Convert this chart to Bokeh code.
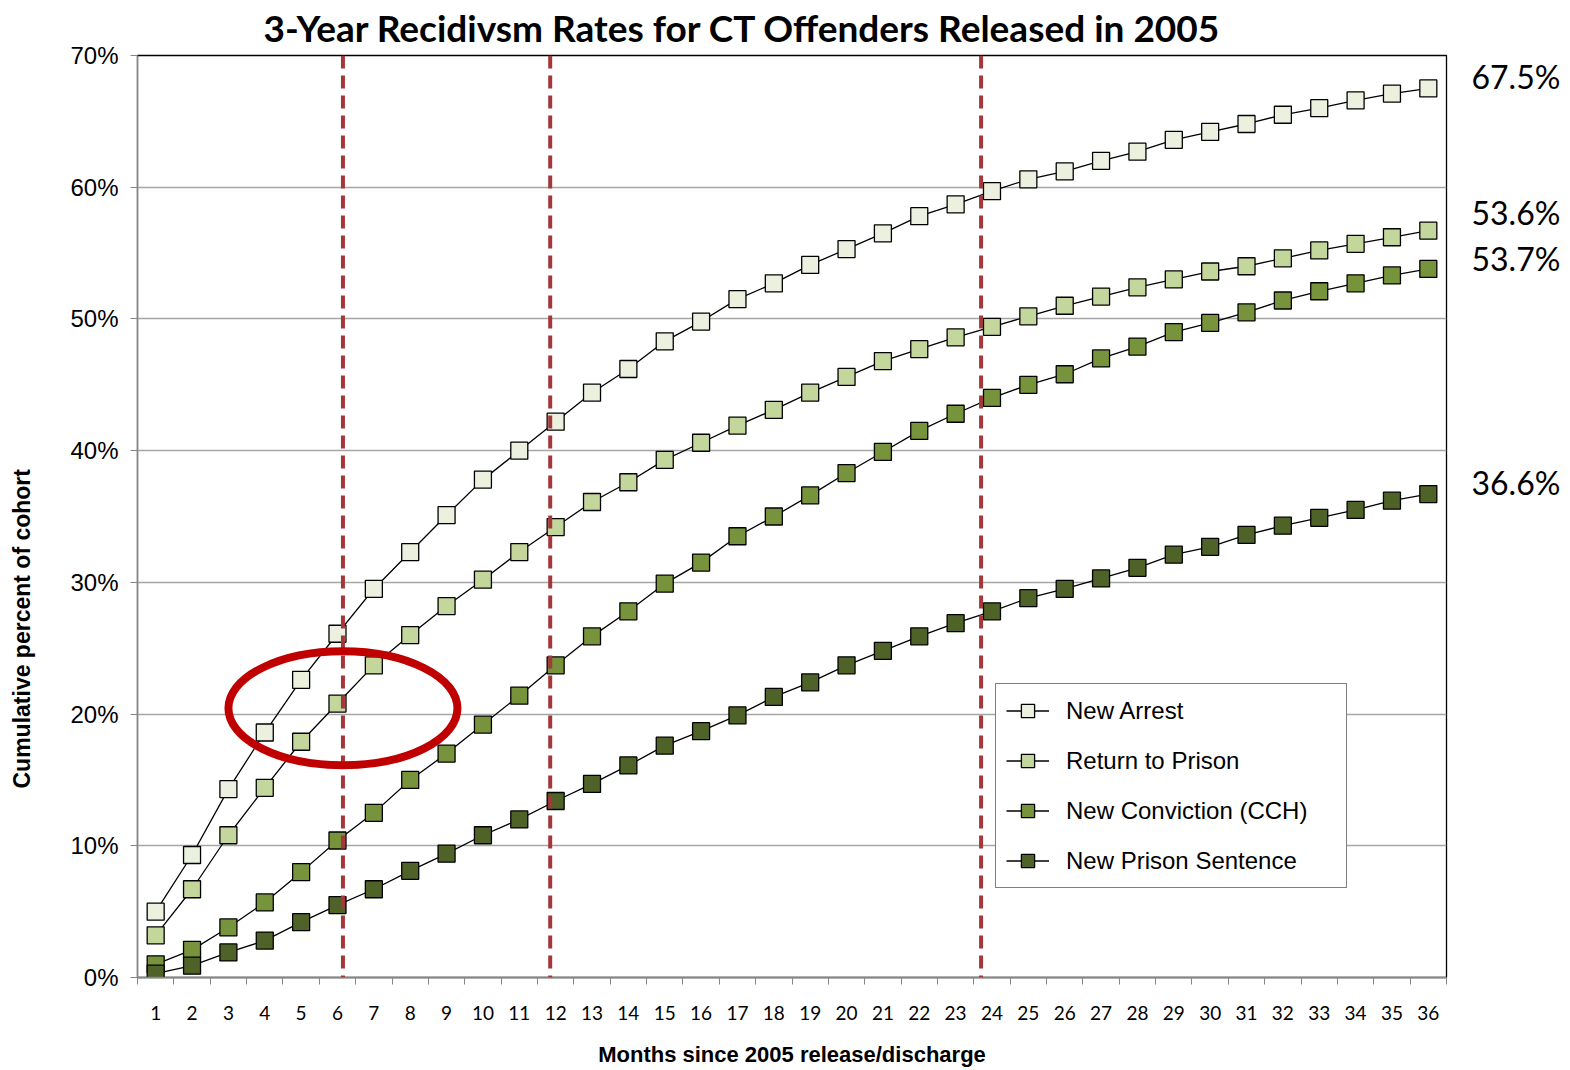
from bokeh.plotting import figure
from bokeh.models import (FixedTicker, PrintfTickFormatter, Span, Legend, LinearAxis,
                          LegendItem, Title, ColumnDataSource)
from bokeh.embed import file_html
from bokeh.resources import INLINE

# ---------------- data ----------------
months = list(range(1, 37))
series_names = ["New Arrest", "Return to Prison", "New Conviction (CCH)", "New Prison Sentence"]
new_arrest = [5.0, 9.3, 14.3, 18.6, 22.6, 26.1, 29.5, 32.3, 35.1, 37.8, 40.0, 42.2,
              44.4, 46.2, 48.3, 49.8, 51.5, 52.7, 54.1, 55.3, 56.5, 57.8, 58.7, 59.7,
              60.6, 61.2, 62.0, 62.7, 63.6, 64.2, 64.8, 65.5, 66.0, 66.6, 67.1, 67.5]
return_prison = [3.2, 6.7, 10.8, 14.4, 17.9, 20.8, 23.7, 26.0, 28.2, 30.2, 32.3, 34.2,
                 36.1, 37.6, 39.3, 40.6, 41.9, 43.1, 44.4, 45.6, 46.8, 47.7, 48.6, 49.4,
                 50.2, 51.0, 51.7, 52.4, 53.0, 53.6, 54.0, 54.6, 55.2, 55.7, 56.2, 56.7]
new_conviction = [1.0, 2.1, 3.8, 5.7, 8.0, 10.4, 12.5, 15.0, 17.0, 19.2, 21.4, 23.7,
                  25.9, 27.8, 29.9, 31.5, 33.5, 35.0, 36.6, 38.3, 39.9, 41.5, 42.8, 44.0,
                  45.0, 45.8, 47.0, 47.9, 49.0, 49.7, 50.5, 51.4, 52.1, 52.7, 53.3, 53.8]
new_sentence = [0.3, 0.9, 1.9, 2.8, 4.2, 5.5, 6.7, 8.1, 9.4, 10.8, 12.0, 13.4,
                 14.7, 16.1, 17.6, 18.7, 19.9, 21.3, 22.4, 23.7, 24.8, 25.9, 26.9, 27.8,
                 28.8, 29.5, 30.3, 31.1, 32.1, 32.7, 33.6, 34.3, 34.9, 35.5, 36.2, 36.7]
y_ticks = [0, 10, 20, 30, 40, 50, 60, 70]
end_labels = ["67.5%", "53.6%", "53.7%", "36.6%"]
end_label_y = [68.4, 58.1, 54.6, 37.6]
marker_months = [6.15, 11.85, 23.7]
highlight_center = (6.15, 20.44)

colors = ["#EBF1DE", "#C3D69B", "#77933C", "#4F6228"]
series = [new_arrest, return_prison, new_conviction, new_sentence]

p = figure(width=1570, height=1070, x_range=(0.5, 36.5), y_range=(0, 70),
           output_backend="svg", toolbar_location=None,
           min_border_left=137, min_border_right=124, min_border_top=55, min_border_bottom=93)
p.background_fill_color = "white"
p.border_fill_color = "white"
p.outline_line_color = "black"
p.outline_line_width = 1.3

# grid
p.xgrid.grid_line_color = None
p.ygrid.grid_line_color = "#A6A6A6"
p.ygrid.grid_line_width = 1.3

# y axis
p.yaxis.ticker = FixedTicker(ticks=y_ticks)
p.yaxis.formatter = PrintfTickFormatter(format="%d%%")
p.yaxis.axis_line_color = "#868686"
p.yaxis.axis_line_width = 1.3
p.yaxis.major_tick_line_color = "#868686"
p.yaxis.major_tick_out = 7
p.yaxis.major_tick_in = 0
p.yaxis.minor_tick_line_color = None
p.yaxis.major_label_standoff = 12
p.yaxis.major_label_text_font = "Liberation Sans"
p.yaxis.major_label_text_font_size = "24px"
p.yaxis.major_label_text_color = "black"
# invisible spacer label to reserve room between tick labels and the side title
p.yaxis.axis_label = " "
p.yaxis.axis_label_text_font_size = "1px"
p.yaxis.axis_label_standoff = 22

# x axis
p.xaxis.ticker = FixedTicker(ticks=months, minor_ticks=[m - 0.5 for m in months] + [months[-1] + 0.5])
p.xaxis.axis_line_color = "#868686"
p.xaxis.axis_line_width = 1.3
p.xaxis.major_tick_out = 0
p.xaxis.major_tick_in = 0
p.xaxis.major_tick_line_color = None
p.xaxis.minor_tick_line_color = "#868686"
p.xaxis.minor_tick_out = 7
p.xaxis.minor_tick_in = 0
p.xaxis.major_label_standoff = 21
p.xaxis.major_label_text_font = "Lato"
p.xaxis.major_label_text_font_size = "19px"
p.xaxis.major_label_text_color = "black"
p.xaxis.axis_label = "Months since 2005 release/discharge"
p.xaxis.axis_label_text_font = "Liberation Sans"
p.xaxis.axis_label_text_font_size = "22px"
p.xaxis.axis_label_text_font_style = "bold"
p.xaxis.axis_label_text_color = "black"
p.xaxis.axis_label_standoff = 19

# right-hand end-of-series annotations, as a bare axis
right_axis = LinearAxis(ticker=FixedTicker(ticks=end_label_y),
                        major_label_overrides={yv: t for yv, t in zip(end_label_y, end_labels)},
                        axis_line_color=None, major_tick_line_color=None,
                        minor_tick_line_color=None, major_label_standoff=19,
                        major_label_text_font="Lato", major_label_text_font_size="32px",
                        major_label_text_color="black")
p.add_layout(right_axis, "right")

# title
p.title.text = "3-Year Recidivsm Rates for CT Offenders Released in 2005"
p.title.text_font = "Lato"
p.title.text_font_size = "37px"
p.title.text_font_style = "bold"
p.title.text_color = "black"
p.title.align = "left"
p.title.offset = 126
p.title.vertical_align = "top"
p.title.standoff = 8

# y axis label as side title
p.add_layout(Title(text="Cumulative percent of cohort", align="left", offset=189,
                   text_font="Liberation Sans", text_font_size="23px", text_color="black",
                   text_font_style="bold", standoff=13), "left")

# series
items = []
for name, vals, col in zip(series_names, series, colors):
    src = ColumnDataSource(dict(x=months, y=vals))
    lr = p.line("x", "y", source=src, line_color="black", line_width=1.3)
    sr = p.scatter("x", "y", source=src, marker="square", size=17,
                   fill_color=col, line_color="black", line_width=1.3)
    items.append(LegendItem(label=name, renderers=[lr, sr]))

# milestone dashed lines
for m in marker_months:
    p.add_layout(Span(location=m, dimension="height", line_color="#A4373A",
                      line_width=4, line_dash="13 7"))

# highlight ellipse
er = p.ellipse(x=[highlight_center[0]], y=[highlight_center[1]], width=229, height=114,
               width_units="screen", height_units="screen",
               fill_alpha=0, line_color="#C00000", line_width=8)
er.level = "overlay"

legend = Legend(items=items, location=(858, 89))
legend.border_line_color = "black"
legend.border_line_width = 1.3
legend.background_fill_color = "white"
legend.background_fill_alpha = 1
legend.label_text_font = "Liberation Sans"
legend.label_text_font_size = "24px"
legend.label_text_color = "black"
legend.glyph_width = 43
legend.glyph_height = 33
legend.label_height = 33
legend.label_width = 270
legend.label_standoff = 17
legend.spacing = 17
legend.padding = 10
legend.margin = 0
p.add_layout(legend)

open("out.html", "w").write(file_html(p, INLINE))
